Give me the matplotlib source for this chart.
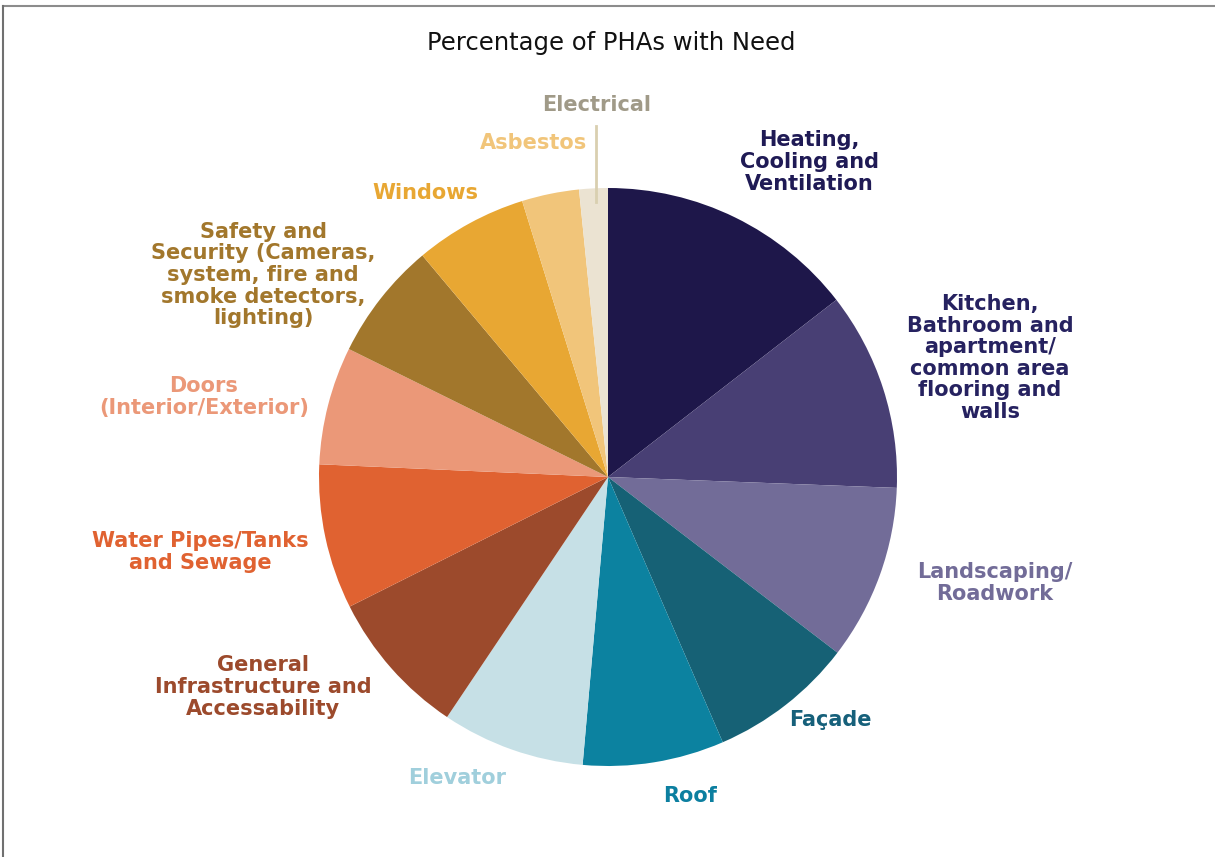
import matplotlib.pyplot as plt
from matplotlib.lines import Line2D
import numpy as np

# slice order: clockwise from 12 o'clock
categories = [
    "Heating,\nCooling and\nVentilation",
    "Kitchen,\nBathroom and\napartment/\ncommon area\nflooring and\nwalls",
    "Landscaping/\nRoadwork",
    "Façade",
    "Roof",
    "Elevator",
    "General\nInfrastructure and\nAccessability",
    "Water Pipes/Tanks\nand Sewage",
    "Doors\n(Interior/Exterior)",
    "Safety and\nSecurity (Cameras,\nsystem, fire and\nsmoke detectors,\nlighting)",
    "Windows",
    "Asbestos",
    "Electrical",
]
shares = [14.5, 11.1, 9.8, 8.1, 7.9, 8.0, 8.2, 8.1, 6.6, 6.6, 6.3, 3.2, 1.6]

slice_colors = ["#1e174a", "#483f74", "#726c98", "#166175", "#0c82a0", "#c6e0e6",
                "#9c4a2c", "#e06231", "#eb9878", "#a2772c", "#e8a733", "#f1c57a",
                "#ebe3d2"]
label_colors = ["#1f1a55", "#262260", "#726c98", "#16607a", "#0c7fa0", "#a0cfdc",
                "#9c4a2c", "#e06231", "#eb9878", "#a2772c", "#e8a733", "#f1c57a",
                "#a09a88"]
# label centres in pixels (x from left, y from top)
label_pos = [(809, 162), (990, 358), (995, 583), (830, 720), (690, 796), (457, 778),
             (263, 687), (200, 552), (204, 397), (263, 275), (425, 193), (534, 143),
             (597, 105)]

W, H = 1215, 857
fig = plt.figure(figsize=(W / 100, H / 100), dpi=100)
fig.patch.set_facecolor("white")

# pie axes: centre (608, 477), radius 289 px
cx, cy, r = 608, 477, 289
ax = fig.add_axes([(cx - r) / W, (H - cy - r) / H, 2 * r / W, 2 * r / H])
ax.pie(shares, colors=slice_colors, startangle=90, counterclock=False,
       radius=1.0, wedgeprops=dict(linewidth=0))
ax.set_xlim(-1, 1)
ax.set_ylim(-1, 1)
ax.axis("off")

# leader line for the tiny Electrical slice
start = 90 - sum(shares[:-1]) / 100 * 360
ang = np.deg2rad(start - shares[-1] / 100 * 360 * 0.6)
lx = np.cos(ang) * 1.0
ax.plot([lx, lx], [0.95, 1.215], color="#d9cfb0", lw=2, clip_on=False)

# labels
for text, col, (px, py) in zip(categories, label_colors, label_pos):
    fig.text(px / W, 1 - py / H, text, color=col, ha="center", va="center",
             fontsize=15, fontweight="bold", family="DejaVu Sans",
             linespacing=1.1)

fig.text(611 / W, 1 - 43 / H, "Percentage of PHAs with Need", ha="center", va="center",
         fontsize=17.5, color="#111111", family="DejaVu Sans")

# frame lines at top and left
fig.add_artist(Line2D([2.5 / W, 1], [1 - 5.5 / H, 1 - 5.5 / H], color="#8c8c8c", lw=1.5,
                      transform=fig.transFigure))
fig.add_artist(Line2D([2.5 / W, 2.5 / W], [0, 1 - 5.5 / H], color="#707070", lw=1.5,
                      transform=fig.transFigure))

fig.savefig("out.png", dpi=100, facecolor="white")
